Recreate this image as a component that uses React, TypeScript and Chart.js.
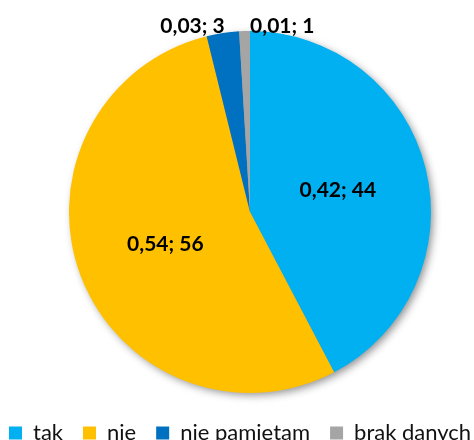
import React, { useEffect, useRef } from "react";
import { Chart, registerables } from "chart.js";

Chart.register(...registerables);

const categories = ["tak", "nie", "nie pamiętam", "brak danych"];
const values = [44, 56, 3, 1];
const colors = ["#00B0F0", "#FFC000", "#0070C0", "#A5A5A5"];

const FONT = "Lato, 'Open Sans', sans-serif";

const shadowPlugin = {
  id: "pieShadow",
  beforeDatasetsDraw(chart: any) {
    const meta = chart.getDatasetMeta(0);
    const arc = meta.data[0];
    if (!arc) return;
    const { x, y, outerRadius } = arc.getProps(["x", "y", "outerRadius"], true);
    const ctx = chart.ctx;
    ctx.save();
    ctx.shadowColor = "rgba(0,0,0,0.45)";
    ctx.shadowBlur = 9;
    ctx.shadowOffsetX = 3;
    ctx.shadowOffsetY = 3;
    ctx.fillStyle = "#999";
    ctx.beginPath();
    ctx.arc(x, y, outerRadius - 1, 0, Math.PI * 2);
    ctx.fill();
    ctx.restore();
  },
};

const labelPlugin = {
  id: "sliceLabels",
  afterDatasetsDraw(chart: any) {
    const meta = chart.getDatasetMeta(0);
    const data: number[] = chart.data.datasets[0].data;
    const total = data.reduce((a, b) => a + b, 0);
    const ctx = chart.ctx;
    ctx.save();
    ctx.font = `bold 21px ${FONT}`;
    ctx.fillStyle = "#000";
    let smallIdx = 0;
    meta.data.forEach((arc: any, i: number) => {
      const { x, y, startAngle, endAngle, outerRadius } = arc.getProps(
        ["x", "y", "startAngle", "endAngle", "outerRadius"],
        true
      );
      const v = data[i];
      const frac = v / total;
      const text = `${frac.toFixed(2).replace(".", ",")}; ${v}`;
      const mid = (startAngle + endAngle) / 2;
      if (frac >= 0.1) {
        const r = outerRadius * 0.5;
        ctx.textAlign = "center";
        ctx.textBaseline = "middle";
        ctx.fillText(text, x + Math.cos(mid) * r, y + Math.sin(mid) * r);
      } else {
        const px = x + Math.cos(mid) * outerRadius;
        const py = y + Math.sin(mid) * outerRadius;
        ctx.textBaseline = "alphabetic";
        if (smallIdx === 0) {
          ctx.textAlign = "right";
          ctx.fillText(text, px + 2, py);
        } else {
          ctx.textAlign = "left";
          ctx.fillText(text, px + 5.5, py + 2);
        }
        smallIdx++;
      }
    });
    ctx.restore();
  },
};

export default function App() {
  const ref = useRef<HTMLCanvasElement | null>(null);
  useEffect(() => {
    document.body.style.margin = "0";
    document.body.style.overflow = "hidden";
    document.documentElement.style.overflow = "hidden";
    const chart = new Chart(ref.current as HTMLCanvasElement, {
      type: "pie",
      data: {
        labels: categories,
        datasets: [
          {
            data: values,
            backgroundColor: colors,
            borderWidth: 0,
            radius: 181,
          },
        ],
      },
      options: {
        animation: false,
        responsive: false,
        layout: { padding: { top: 22, bottom: 0, left: 0, right: 0 } },
        plugins: {
          tooltip: { enabled: false },
          legend: {
            position: "bottom",
            align: "start",
            labels: {
              boxWidth: 13,
              boxHeight: 13,
              padding: 20,
              color: "#111",
              font: { family: FONT, size: 22 },
            },
          },
        },
      },
      plugins: [shadowPlugin, labelPlugin],
    } as any);
    return () => chart.destroy();
  }, []);
  return (
    <div style={{ width: 522, height: 454, marginLeft: -11, position: "relative" }}>
      <canvas ref={ref} width={522} height={454} style={{ width: 522, height: 454, display: "block" }} />
    </div>
  );
}
